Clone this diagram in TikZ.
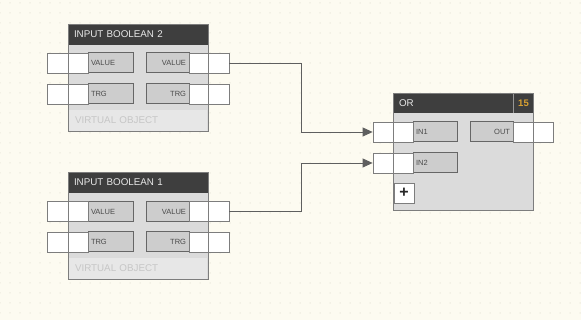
\documentclass[tikz,border=0pt]{standalone}
\usepackage{fontspec}
\setmainfont{Liberation Sans}
\usepackage{tikz}
\usetikzlibrary{arrows.meta, positioning}
\definecolor{canvas}{HTML}{FDFBF1}
\definecolor{griddot}{HTML}{EAE7DA}
\definecolor{titlebg}{HTML}{3E3E3E}
\definecolor{titletxt}{HTML}{E8E8E8}
\definecolor{bodybg}{HTML}{DBDBDB}
\definecolor{edge}{HTML}{7D7D7D}
\definecolor{slotbg}{HTML}{CDCDCD}
\definecolor{slotedge}{HTML}{666666}
\definecolor{slottxt}{HTML}{4A4A4A}
\definecolor{virtbg}{HTML}{E7E7E7}
\definecolor{virttxt}{HTML}{C6C6C6}
\definecolor{counter}{HTML}{D9A132}
\definecolor{wirec}{HTML}{5F5F5F}

\begin{document}
\begin{tikzpicture}[x=1pt, y=-1pt,
    body/.style     = {rectangle, fill=bodybg, minimum width=140pt, inner sep=0pt, outer sep=0pt},
    titlebar/.style = {rectangle, fill=titlebg, text=titletxt, text width=128pt, inner xsep=6pt,
                       inner ysep=0pt, outer sep=0pt, align=left, font=\fontsize{9.8}{10}\selectfont},
    virt/.style     = {rectangle, fill=virtbg, text=virttxt, text width=126pt, inner xsep=6pt,
                       inner ysep=0pt, minimum height=21pt, align=left, font=\fontsize{9.8}{10}\selectfont},
    slot/.style     = {rectangle, fill=slotbg, draw=slotedge, line width=1pt, minimum height=20pt,
                       inner xsep=3pt, inner ysep=0pt, text=slottxt, font=\fontsize{7.5}{8}\selectfont},
    slotl/.style    = {slot, text width=#1, align=left},
    slotr/.style    = {slot, text width=#1, align=right},
    port/.style     = {rectangle, fill=white, draw=edge, line width=0.8pt, minimum height=20pt,
                       minimum width=#1, inner sep=0pt},
    frameline/.style= {draw=edge, line width=0.9pt},
    countcell/.style= {rectangle, fill=titlebg, text=counter, minimum width=19pt, minimum height=20pt,
                       inner sep=0pt, font=\fontsize{9.5}{10}\bfseries\selectfont},
    plusbtn/.style  = {rectangle, fill=white, draw=edge, line width=0.8pt, minimum size=20pt,
                       inner sep=0pt, font=\fontsize{16}{16}\bfseries\selectfont, text=black!85},
    wire/.style     = {draw=wirec, line width=0.8pt, -{Triangle[length=10pt, width=9pt]}}
  ]

  % ── Canvas ─────────────────────────────────────────────────────────────────
  \useasboundingbox (0,0) rectangle (581,320);
  \fill[canvas] (0,0) rectangle (581,320);
  \foreach \gx in {0,10,...,580} {
    \foreach \gy in {3,13,...,313} {
      \fill[griddot] (\gx,\gy) circle (0.75pt);
    }
  }

  % ── INPUT BOOLEAN 2 ────────────────────────────────────────────────────────
  \node[body, minimum height=107pt] (b2body) at (138,77.5) {};
  \node[titlebar, minimum height=21pt] (b2title) at (138,34.5) {INPUT BOOLEAN 2};
  \node[virt] (b2virt) at (138,120.5) {VIRTUAL OBJECT};
  \node[slotl=39pt] (b2vallbl)  at (110.5,63) {VALUE};
  \node[slotl=39pt] (b2trglbl)  at (110.5,94) {TRG};
  \node[slotr=37pt] (b2valtag)  at (167.5,63) {VALUE};
  \node[slotr=37pt] (b2trgtag)  at (167.5,94) {TRG};
  \node[port=41pt]  (b2valin)   at (67.5,63) {};
  \node[port=41pt]  (b2trgin)   at (67.5,94) {};
  \node[port=40pt]  (b2valout)  at (209,63) {};
  \node[port=40pt]  (b2trgout)  at (209,94) {};
  \draw[frameline] (b2body.north west) rectangle (b2body.south east);

  % ── INPUT BOOLEAN 1 ────────────────────────────────────────────────────────
  \node[body, minimum height=107pt] (b1body) at (138,225.5) {};
  \node[titlebar, minimum height=21pt] (b1title) at (138,182.5) {INPUT BOOLEAN 1};
  \node[virt] (b1virt) at (138,268.5) {VIRTUAL OBJECT};
  \node[slotl=39pt] (b1vallbl)  at (110.5,211.5) {VALUE};
  \node[slotl=39pt] (b1trglbl)  at (110.5,242) {TRG};
  \node[slotr=37pt] (b1valtag)  at (167.5,211.5) {VALUE};
  \node[slotr=37pt] (b1trgtag)  at (167.5,242) {TRG};
  \node[port=41pt]  (b1valin)   at (67.5,211.5) {};
  \node[port=41pt]  (b1trgin)   at (67.5,242) {};
  \node[port=40pt]  (b1valout)  at (209,211.5) {};
  \node[port=40pt]  (b1trgout)  at (209,242) {};
  \draw[frameline] (b1body.north west) rectangle (b1body.south east);

  % ── OR gate ────────────────────────────────────────────────────────────────
  \node[body, minimum height=117pt] (orbody) at (463,151.5) {};
  \node[titlebar, minimum height=20pt] (ortitle) at (463,103) {OR};
  \node[countcell] (orcount) at (523.5,103) {15};
  \draw[edge!80, line width=0.8pt] (orcount.north west) -- (orcount.south west);
  \node[slotl=38pt] (in1lbl)  at (435,132) {IN1};
  \node[slotl=38pt] (in2lbl)  at (435,163) {IN2};
  \node[slotr=37pt] (outlbl)  at (491.5,132) {OUT};
  \node[port=40pt]  (in1)     at (393,132) {};
  \node[port=40pt]  (in2)     at (393,163) {};
  \node[port=40pt]  (out)     at (533,132) {};
  \node[plusbtn]    (oradd)   at (404,193) {+};
  \draw[frameline] (orbody.north west) rectangle (orbody.south east);

  % ── Wires ──────────────────────────────────────────────────────────────────
  \draw[wire] (b2valout.east) -- ++(72,0) |- (in1.west);
  \draw[wire] (b1valout.east) -- ++(72,0) |- (in2.west);

\end{tikzpicture}
\end{document}
